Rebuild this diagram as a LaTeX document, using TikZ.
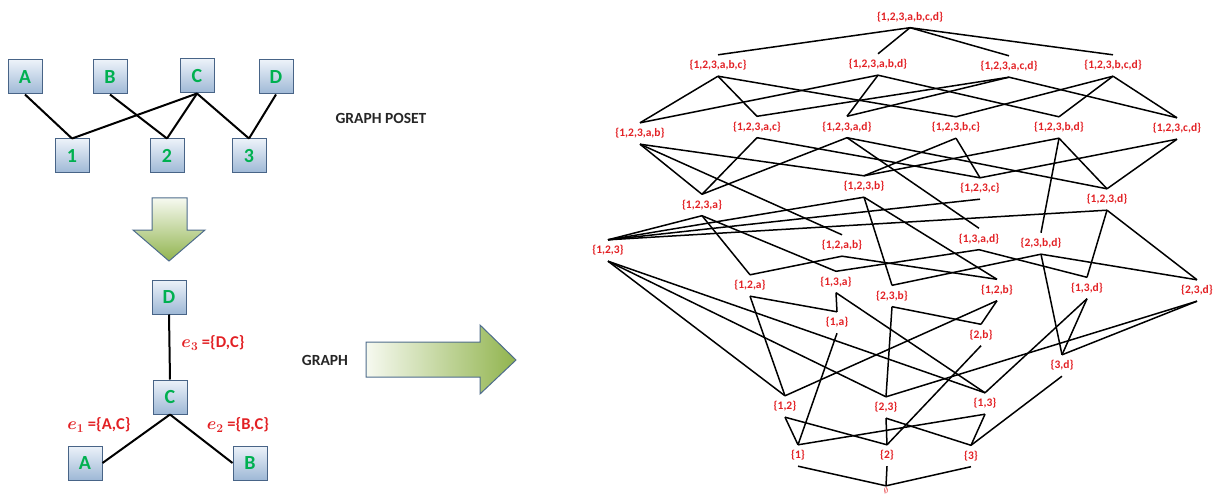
\documentclass[tikz,border=0pt]{standalone}
\usepackage{fontspec}
\usepackage{amssymb}
\setmainfont{Carlito}
\definecolor{lred}{RGB}{226,32,36}
\definecolor{bgreen}{RGB}{0,176,80}
\definecolor{boxedge}{RGB}{72,100,135}
\definecolor{boxtop}{RGB}{236,242,249}
\definecolor{boxbot}{RGB}{158,184,214}
\definecolor{arrlight}{RGB}{246,249,240}
\definecolor{arrgreen}{RGB}{145,180,78}
\definecolor{arredge}{RGB}{78,108,140}
\tikzset{
  lat/.style={text=lred, font=\bfseries\fontsize{11.5}{12}\selectfont, inner sep=0pt, minimum height=21pt},
  latedge/.style={line width=1.5pt, black},
  gbox/.style={draw=boxedge, line width=1pt, top color=boxtop, bottom color=boxbot,
    minimum width=34pt, minimum height=34pt, inner sep=0pt, text=bgreen,
    font=\bfseries\fontsize{20}{20}\selectfont},
  gedge/.style={line width=2pt, black},
  caption/.style={font=\bfseries\fontsize{15.5}{17}\selectfont, text=black!85},
  elabel/.style={text=lred, font=\bfseries\fontsize{16.5}{18}\selectfont, inner sep=0pt},
  blockarrow/.style={draw=arredge, line width=1pt}
}
\begin{document}
\begin{tikzpicture}[x=1pt,y=-1pt]
\useasboundingbox (0,0) rectangle (1215,497);
% ---------- graph poset ----------
\node[gbox] (pA) at (25,77) {A};
\node[gbox] (pB) at (110,77) {B};
\node[gbox] (pC) at (197,76) {C};
\node[gbox] (pD) at (276,77) {D};
\node[gbox] (p1) at (72,156) {1};
\node[gbox] (p2) at (167,156) {2};
\node[gbox] (p3) at (249,156) {3};
\draw[gedge] (pA.south) -- (p1.north);
\draw[gedge] (pB.south) -- (p2.north);
\draw[gedge] (pC.south) -- (p1.north);
\draw[gedge] (pC.south) -- (p2.north);
\draw[gedge] (pC.south) -- (p3.north);
\draw[gedge] (pD.south) -- (p3.north);
\node[caption] (gposet) at (381,118) {GRAPH POSET};
% ---------- down arrow ----------
\draw[blockarrow, top color=arrlight, bottom color=arrgreen]
  (152,198) -- (187,198) -- (187,230) -- (205,230) -- (169,261) -- (133,230) -- (152,230) -- cycle;
% ---------- graph ----------
\node[gbox] (gD) at (169,297) {D};
\node[gbox] (gC) at (170,397) {C};
\node[gbox] (gA) at (85,463) {A};
\node[gbox] (gB) at (250,463) {B};
\draw[gedge] (gD.south) -- (gC.north);
\draw[gedge] (gC.south) -- (gA.east);
\draw[gedge] (gC.south) -- (gB.west);
\node[elabel] (e3) at (213,343) {{\boldmath$e_3$} =\{D,C\}};
\node[elabel] (e2) at (238,425) {{\boldmath$e_2$} =\{B,C\}};
\node[elabel] (e1) at (99,425) {{\boldmath$e_1$} =\{A,C\}};
\node[caption] (graph) at (325,360) {GRAPH};
% ---------- right arrow ----------
\draw[blockarrow, left color=arrlight, right color=arrgreen]
  (366,342) -- (480,342) -- (480,325) -- (516,360) -- (480,394) -- (480,377) -- (366,377) -- cycle;
% ---------- lattice ----------
\node[lat] (xtop) at (910,17) {\{1,2,3,a,b,c,d\}};
\node[lat] (xabc) at (718,65.5) {\{1,2,3,a,b,c\}};
\node[lat] (xabd) at (878,64.5) {\{1,2,3,a,b,d\}};
\node[lat] (xacd) at (1009,66.5) {\{1,2,3,a,c,d\}};
\node[lat] (xbcd) at (1113,65.5) {\{1,2,3,b,c,d\}};
\node[lat] (xab) at (640,133.5) {\{1,2,3,a,b\}};
\node[lat] (xac) at (757,127) {\{1,2,3,a,c\}};
\node[lat] (xad) at (847,127) {\{1,2,3,a,d\}};
\node[lat] (xbc) at (956,127.5) {\{1,2,3,b,c\}};
\node[lat] (xbd) at (1059,127.5) {\{1,2,3,b,d\}};
\node[lat] (xcd) at (1177,128.5) {\{1,2,3,c,d\}};
\node[lat] (xa) at (702,205) {\{1,2,3,a\}};
\node[lat] (xb) at (864,186.5) {\{1,2,3,b\}};
\node[lat] (xc) at (980,188.5) {\{1,2,3,c\}};
\node[lat] (xd) at (1107,199.5) {\{1,2,3,d\}};
\node[lat] (x123) at (608,250.5) {\{1,2,3\}};
\node[lat] (x12ab) at (842,245.5) {\{1,2,a,b\}};
\node[lat] (x13ad) at (979,239) {\{1,3,a,d\}};
\node[lat] (x23bd) at (1041,243.5) {\{2,3,b,d\}};
\node[lat] (x12a) at (750,285.5) {\{1,2,a\}};
\node[lat] (x13a) at (836,282) {\{1,3,a\}};
\node[lat] (x23b) at (892,296) {\{2,3,b\}};
\node[lat] (x12b) at (997,290) {\{1,2,b\}};
\node[lat] (x13d) at (1087,288) {\{1,3,d\}};
\node[lat] (x23d) at (1197,290.5) {\{2,3,d\}};
\node[lat] (x1a) at (837,322.5) {\{1,a\}};
\node[lat] (x2b) at (981,335) {\{2,b\}};
\node[lat] (x3d) at (1062,365.5) {\{3,d\}};
\node[lat] (x12) at (785,406.5) {\{1,2\}};
\node[lat] (x23) at (886,407.5) {\{2,3\}};
\node[lat] (x13) at (985,403.5) {\{1,3\}};
\node[lat] (x1) at (798,455.5) {\{1\}};
\node[lat] (x2) at (887,455.5) {\{2\}};
\node[lat] (x3) at (971,456) {\{3\}};
\node[lat, minimum height=9pt, font=\fontsize{8}{8}\selectfont] (x0) at (886,490.5) {$\emptyset$};
\foreach \u/\v in {
  xtop/xabc, xtop/xabd, xtop/xacd, xtop/xbcd,
  xabc/xab, xabc/xac, xabc/xbc,
  xabd/xab, xabd/xad, xabd/xbd,
  xacd/xac, xacd/xad, xacd/xcd,
  xbcd/xbc, xbcd/xbd, xbcd/xcd,
  xab/xa, xab/xb, xab/x12ab,
  xac/xa, xac/xc,
  xad/xa, xad/xd, xad/x13ad,
  xbc/xb, xbc/xc,
  xbd/xb, xbd/xd, xbd/x23bd,
  xcd/xc, xcd/xd,
  xa/x123, xa/x12a, xa/x13a,
  xb/x123, xb/x12b, xb/x23b,
  xc/x123,
  xd/x123, xd/x13d, xd/x23d,
  x12ab/x12a, x12ab/x12b,
  x13ad/x13a, x13ad/x13d,
  x23bd/x23b, x23bd/x23d, x23bd/x3d,
  x123/x12, x123/x23, x123/x13,
  x12a/x12, x12a/x1a,
  x13a/x13, x13a/x1a,
  x23b/x23, x23b/x2b,
  x12b/x12, x12b/x2b,
  x13d/x13, x13d/x3d,
  x23d/x23, x23d/x3d,
  x1a/x1, x2b/x2, x3d/x3,
  x12/x1, x12/x2, x23/x2, x23/x3, x13/x1, x13/x3,
  x1/x0, x2/x0, x3/x0}
  \draw[latedge] (\u.south) -- (\v.north);
\end{tikzpicture}
\end{document}
